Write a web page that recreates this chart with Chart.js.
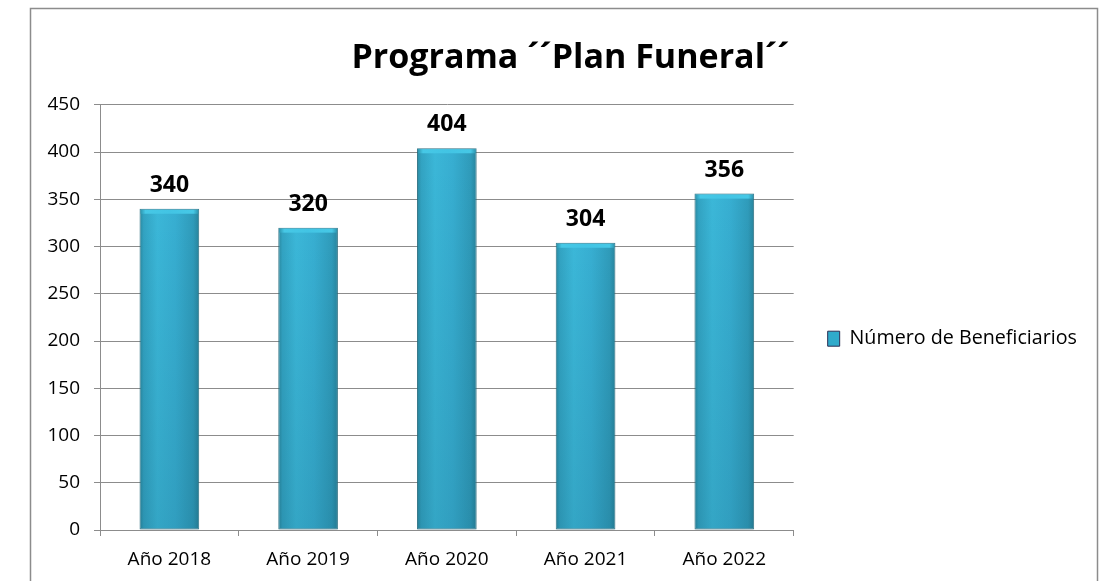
<!DOCTYPE html>
<html>
<head>
<meta charset="utf-8">
<title>Programa Plan Funeral</title>
<script src="https://cdn.jsdelivr.net/npm/chart.js@4"></script>
<style>
  html, body { margin: 0; padding: 0; background: #fff; }
  #wrap { width: 1099px; height: 581px; }
</style>
</head>
<body>
<div id="wrap"><canvas id="myChart"></canvas></div>
<script>
'use strict';

// data
const years = ['Año 2018', 'Año 2019', 'Año 2020', 'Año 2021', 'Año 2022'];
const beneficiarios = [340, 320, 404, 304, 356];
const yTicks = [0, 50, 100, 150, 200, 250, 300, 350, 400, 450];

const ctx = document.getElementById('myChart').getContext('2d');
Chart.defaults.font.family = "'Open Sans', sans-serif";
Chart.defaults.color = '#000';

const BAR_PCT = 0.43;

// cylinder-like gradient per bar, built from the x scale
function barFill(context) {
    const chart = context.chart;
    const xs = chart.scales.x;
    if (!chart.chartArea || !xs) return '#33aacb';
    const cx = xs.getPixelForValue(context.dataIndex);
    const w = (xs.width / years.length) * BAR_PCT;
    const g = chart.ctx.createLinearGradient(cx - w / 2, 0, cx + w / 2, 0);
    g.addColorStop(0, '#2a889f');
    g.addColorStop(0.07, '#32a3c2');
    g.addColorStop(0.3, '#3bb7d8');
    g.addColorStop(0.6, '#37aed1');
    g.addColorStop(0.9, '#2f9bba');
    g.addColorStop(1, '#28849c');
    return g;
}

// white page, faint frame; title nudged right like the original
const framePlugin = {
    id: 'frame',
    afterLayout(chart) {
        if (chart.titleBlock) chart.titleBlock.left += 24;
    },
    beforeDraw(chart) {
        const c = chart.ctx;
        c.save();
        c.fillStyle = '#fff';
        c.fillRect(0, 0, chart.width, chart.height);
        c.strokeStyle = '#8c8c8c';
        c.lineWidth = 1.5;
        c.strokeRect(30.5, 8.5, 1067, 620);
        c.restore();
    }
};

// soft shadow round the bars
const shadowPlugin = {
    id: 'barShadow',
    beforeDatasetsDraw(chart) {
        const c = chart.ctx;
        c.save();
        c.shadowColor = 'rgba(0,0,0,0.13)';
        c.shadowBlur = 10;
    },
    afterDatasetsDraw(chart) {
        chart.ctx.restore();
    }
};

// darker bottom, light cap, value labels
const barDecor = {
    id: 'barDecor',
    afterDatasetsDraw(chart) {
        const c = chart.ctx;
        const meta = chart.getDatasetMeta(0);
        c.save();
        meta.data.forEach((bar, i) => {
            const left = bar.x - bar.width / 2;
            const top = bar.y;
            const h = bar.base - bar.y;
            const vg = c.createLinearGradient(0, top, 0, bar.base);
            vg.addColorStop(0, 'rgba(0,40,60,0)');
            vg.addColorStop(1, 'rgba(0,40,60,0.12)');
            c.fillStyle = vg;
            c.fillRect(left + 1, top, bar.width - 2, h);

            const cap = c.createLinearGradient(left, 0, left + bar.width, 0);
            cap.addColorStop(0, 'rgba(40,140,165,1)');
            cap.addColorStop(0.1, 'rgba(70,200,230,1)');
            cap.addColorStop(0.5, 'rgba(66,196,228,1)');
            cap.addColorStop(0.9, 'rgba(70,200,230,1)');
            cap.addColorStop(1, 'rgba(40,140,165,1)');
            c.fillStyle = cap;
            c.fillRect(left + 1, top + 1, bar.width - 2, 4);

            c.fillStyle = '#000';
            c.font = "bold 23px 'Open Sans', sans-serif";
            c.textAlign = 'center';
            c.textBaseline = 'alphabetic';
            c.fillText(String(beneficiarios[i]), bar.x, top - 17);
        });
        c.restore();
    }
};

const chartObj = {
    type: 'bar',
    data: {
        labels: years,
        datasets: [{
            label: 'Número de Beneficiarios',
            data: beneficiarios,
            backgroundColor: barFill,
            borderColor: 'rgba(40,115,135,0.9)',
            borderWidth: 1,
            borderSkipped: false,
            categoryPercentage: 1,
            barPercentage: BAR_PCT
        }]
    },
    options: {
        responsive: true,
        maintainAspectRatio: false,
        animation: false,
        layout: {
            padding: { left: 30, top: 8, right: 12, bottom: 0 }
        },
        scales: {
            y: {
                min: 0,
                max: 450,
                afterBuildTicks(scale) {
                    scale.ticks = yTicks.map(v => ({ value: v }));
                },
                afterFit(scale) {
                    scale.width = 70;
                },
                ticks: {
                    padding: 14,
                    font: { size: 19 },
                    color: '#000'
                },
                grid: {
                    color: '#8c8c8c',
                    lineWidth: 1,
                    tickLength: 6
                },
                border: { color: '#8c8c8c', width: 1 }
            },
            x: {
                afterFit(scale) {
                    scale.height = 51;
                },
                ticks: {
                    padding: 12,
                    font: { size: 19 },
                    color: '#000'
                },
                grid: {
                    drawOnChartArea: false,
                    drawTicks: true,
                    tickLength: 6,
                    color: '#8c8c8c',
                    offset: true
                },
                border: { color: '#8c8c8c', width: 1 }
            }
        },
        plugins: {
            title: {
                display: true,
                text: 'Programa \u00b4\u00b4Plan Funeral\u00b4\u00b4',
                color: '#000',
                font: { size: 34, weight: 'bold' },
                padding: { top: 30, bottom: 26 }
            },
            legend: {
                position: 'right',
                maxWidth: 400,
                title: {
                    display: true,
                    text: ' ',
                    font: { size: 17 },
                    padding: { top: 0, bottom: 68 }
                },
                labels: {
                    padding: 34,
                    boxWidth: 12,
                    boxHeight: 15,
                    font: { size: 19.7 },
                    color: '#000',
                    generateLabels(chart) {
                        return [{
                            text: chart.data.datasets[0].label,
                            fillStyle: '#30abcb',
                            strokeStyle: '#2b2f55',
                            lineWidth: 1,
                            datasetIndex: 0,
                            hidden: false
                        }];
                    }
                }
            },
            tooltip: { enabled: false }
        }
    },
    plugins: [framePlugin, shadowPlugin, barDecor]
};

const myChart = new Chart(ctx, chartObj);
</script>
</body>
</html>
